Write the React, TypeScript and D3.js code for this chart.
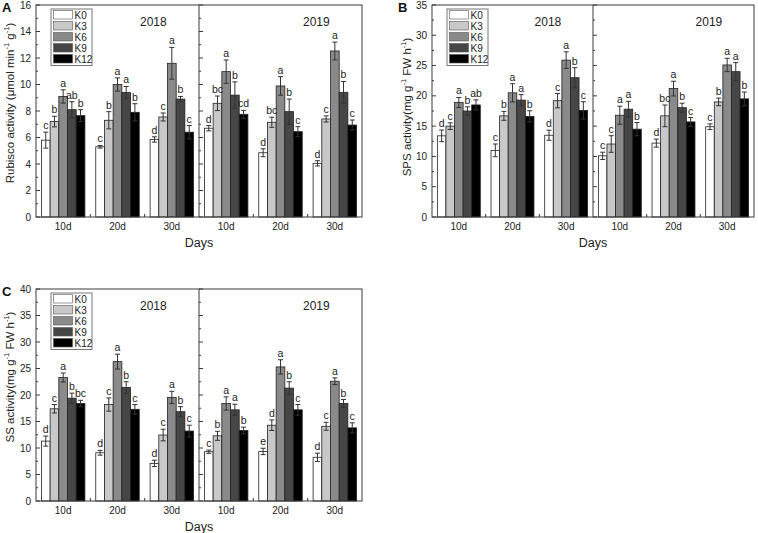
import * as d3 from 'd3';
import { useEffect, useRef } from 'react';

// categories
const treatments = ['K0', 'K3', 'K6', 'K9', 'K12'];
const days = ['10d', '20d', '30d'];
const years = ['2018', '2019'];
const fills = ['#ffffff', '#c8c8c8', '#8a8a8a', '#464646', '#000000'];

// A - Rubisco activity (rows = days, cols = K0..K12)
const rubiscoMean2018 = [[5.8, 7.2, 9.1, 8.1, 7.65], [5.3, 7.3, 10.0, 9.4, 7.9], [5.85, 7.55, 11.6, 8.9, 6.4]];
const rubiscoErr2018 = [[0.6, 0.4, 0.5, 0.6, 0.45], [0.1, 0.65, 0.5, 0.45, 0.65], [0.2, 0.3, 1.2, 0.2, 0.5]];
const rubiscoSig2018 = [['c', 'b', 'a', 'ab', 'b'], ['c', 'b', 'a', 'a', 'b'], ['d', 'c', 'a', 'b', 'c']];
const rubiscoMean2019 = [[6.7, 8.58, 10.97, 9.2, 7.75], [4.85, 7.15, 9.89, 7.95, 6.44], [4.05, 7.4, 12.53, 9.41, 6.94]];
const rubiscoErr2019 = [[0.2, 0.55, 0.88, 1.0, 0.3], [0.3, 0.38, 0.7, 0.95, 0.38], [0.2, 0.23, 0.67, 0.82, 0.38]];
const rubiscoSig2019 = [['d', 'bc', 'a', 'b', 'cd'], ['d', 'bc', 'a', 'b', 'c'], ['d', 'c', 'a', 'b', 'c']];

// B - SPS activity
const spsMean2018 = [[13.4, 15.0, 18.9, 17.5, 18.5], [11.0, 16.7, 20.5, 19.3, 16.6], [13.5, 19.2, 25.9, 23.0, 17.6]];
const spsErr2018 = [[0.96, 0.55, 0.83, 0.69, 0.83], [1.05, 0.74, 1.5, 0.9, 0.94], [0.83, 1.18, 1.37, 1.65, 1.43]];
const spsSig2018 = [['d', 'c', 'a', 'b', 'ab'], ['c', 'b', 'a', 'a', 'b'], ['d', 'c', 'a', 'b', 'c']];
const spsMean2019 = [[10.1, 12.05, 16.8, 17.8, 14.5], [12.2, 16.7, 21.2, 18.05, 15.7], [14.9, 19.0, 25.1, 24.0, 19.5]];
const spsErr2019 = [[0.6, 1.37, 1.49, 1.29, 1.1], [0.66, 1.79, 1.21, 0.74, 0.72], [0.47, 0.63, 1.1, 1.49, 1.13]];
const spsSig2019 = [['c', 'c', 'a', 'a', 'b'], ['d', 'bc', 'a', 'b', 'c'], ['c', 'b', 'a', 'a', 'b']];

// C - SS activity
const ssMean2018 = [[11.3, 17.4, 23.3, 19.4, 18.4], [9.1, 18.2, 26.3, 21.4, 17.3], [7.1, 12.45, 19.55, 16.85, 13.2]];
const ssErr2018 = [[0.95, 0.8, 0.85, 0.95, 0.6], [0.45, 1.25, 1.4, 1.1, 0.9], [0.6, 1.1, 1.15, 0.95, 1.1]];
const ssSig2018 = [['d', 'c', 'a', 'b', 'bc'], ['d', 'c', 'a', 'b', 'c'], ['d', 'c', 'a', 'b', 'c']];
const ssMean2019 = [[9.3, 12.3, 18.4, 17.2, 13.3], [9.35, 14.3, 25.3, 21.3, 17.2], [8.25, 14.1, 22.6, 18.4, 13.8]];
const ssErr2019 = [[0.3, 0.85, 1.25, 1.05, 0.63], [0.6, 1.0, 1.35, 1.2, 1.0], [0.78, 0.75, 0.63, 0.75, 0.95]];
const ssSig2019 = [['c', 'b', 'a', 'a', 'b'], ['e', 'd', 'a', 'b', 'c'], ['d', 'c', 'a', 'b', 'c']];

const FONT = 'Liberation Sans, Arial, sans-serif';
const AXIS = '#3a3a3a';

const panels = [
  {
    tag: 'A', left: 36, right: 362, top: 5, bottom: 217, yMax: 16, yStep: 2,
    titleX: 14, titleY: 103, title: ['Rubisco activity (\u03bcmol min', '-1', ' g', '-1', ')'],
    mean: [rubiscoMean2018, rubiscoMean2019], err: [rubiscoErr2018, rubiscoErr2019], sig: [rubiscoSig2018, rubiscoSig2019],
  },
  {
    tag: 'B', left: 432, right: 754, top: 5, bottom: 217, yMax: 35, yStep: 5,
    titleX: 411, titleY: 107, title: ['SPS activity(mg  g', '-1', ' FW h', '-1', ')'],
    mean: [spsMean2018, spsMean2019], err: [spsErr2018, spsErr2019], sig: [spsSig2018, spsSig2019],
  },
  {
    tag: 'C', left: 36, right: 362, top: 289, bottom: 501, yMax: 40, yStep: 5,
    titleX: 14, titleY: 377, title: ['SS activity(mg  g', '-1', ' FW h', '-1', ')'],
    mean: [ssMean2018, ssMean2019], err: [ssErr2018, ssErr2019], sig: [ssSig2018, ssSig2019],
  },
];

function drawPanel(root, p) {
  const g = root.append('g');
  const y = d3.scaleLinear().domain([0, p.yMax]).range([p.bottom, p.top]);
  const groups = years.flatMap(yr => days.map(d => `${yr}|${d}`));
  const x0 = d3.scaleBand().domain(groups).range([p.left, p.right]).paddingInner(0.2).paddingOuter(0.1);
  const x1 = d3.scaleBand().domain(treatments).range([0, x0.bandwidth()]);
  const step = x0.step();
  const mid = (p.left + p.right) / 2;

  // bars
  const rows = [];
  years.forEach((yr, yi) => days.forEach((d, di) => treatments.forEach((t, ti) => {
    rows.push({ key: `${yr}|${d}`, t, ti, v: p.mean[yi][di][ti], e: p.err[yi][di][ti], s: p.sig[yi][di][ti] });
  })));

  g.selectAll('rect.bar').data(rows).enter().append('rect')
    .attr('x', d => x0(d.key) + x1(d.t))
    .attr('y', d => y(d.v))
    .attr('width', x1.bandwidth())
    .attr('height', d => p.bottom - y(d.v))
    .attr('fill', d => fills[d.ti])
    .attr('stroke', '#222').attr('stroke-width', 0.8);

  // error bars
  const eb = g.selectAll('g.err').data(rows).enter().append('g')
    .attr('stroke', '#333').attr('stroke-width', 1);
  const cx = d => x0(d.key) + x1(d.t) + x1.bandwidth() / 2;
  eb.append('line').attr('x1', cx).attr('x2', cx).attr('y1', d => y(d.v + d.e)).attr('y2', d => y(d.v - d.e));
  eb.append('line').attr('x1', d => cx(d) - 2.5).attr('x2', d => cx(d) + 2.5).attr('y1', d => y(d.v + d.e)).attr('y2', d => y(d.v + d.e));
  eb.append('line').attr('x1', d => cx(d) - 2.5).attr('x2', d => cx(d) + 2.5).attr('y1', d => y(d.v - d.e)).attr('y2', d => y(d.v - d.e));

  // significance letters
  g.selectAll('text.sig').data(rows).enter().append('text')
    .attr('x', cx).attr('y', d => y(d.v + d.e) - 3)
    .attr('text-anchor', 'middle').attr('font-size', 10.5).attr('font-family', FONT).attr('fill', '#222')
    .text(d => d.s);

  // frame and divider
  g.append('rect').attr('x', p.left).attr('y', p.top).attr('width', p.right - p.left).attr('height', p.bottom - p.top)
    .attr('fill', 'none').attr('stroke', AXIS).attr('stroke-width', 1);
  g.append('line').attr('x1', mid).attr('x2', mid).attr('y1', p.top).attr('y2', p.bottom)
    .attr('stroke', AXIS).attr('stroke-width', 1);

  // y ticks (inward) on left axis and on the divider
  const major = d3.range(0, p.yMax + 0.001, p.yStep);
  const minor = d3.range(p.yStep / 2, p.yMax, p.yStep);
  [p.left, mid].forEach(ax => {
    g.selectAll(null).data(major).enter().append('line')
      .attr('x1', ax).attr('x2', ax + 4).attr('y1', d => y(d)).attr('y2', d => y(d)).attr('stroke', AXIS);
    g.selectAll(null).data(minor).enter().append('line')
      .attr('x1', ax).attr('x2', ax + 2).attr('y1', d => y(d)).attr('y2', d => y(d)).attr('stroke', AXIS);
  });
  g.selectAll(null).data(major).enter().append('text')
    .attr('x', p.left - 5).attr('y', d => y(d) + 3.5)
    .attr('text-anchor', 'end').attr('font-size', 10).attr('font-family', FONT).attr('fill', '#222')
    .text(d => d);

  // x minor ticks between day groups
  const bounds = [1, 2, 4, 5].map(i => p.left + i * step);
  g.selectAll(null).data(bounds).enter().append('line')
    .attr('x1', d => d).attr('x2', d => d).attr('y1', p.bottom).attr('y2', p.bottom - 3).attr('stroke', AXIS);

  // day labels
  g.selectAll(null).data(groups).enter().append('text')
    .attr('x', d => x0(d) + x0.bandwidth() / 2).attr('y', p.bottom + 12.5)
    .attr('text-anchor', 'middle').attr('font-size', 10).attr('font-family', FONT).attr('fill', '#222')
    .text(d => d.split('|')[1]);
  g.append('text').attr('x', mid).attr('y', p.bottom + 29.5)
    .attr('text-anchor', 'middle').attr('font-size', 12.5).attr('font-family', FONT).attr('fill', '#222')
    .text('Days');

  // year labels
  const half = (p.right - p.left) / 2;
  years.forEach((yr, i) => {
    g.append('text').attr('x', p.left + i * half + half * 0.72).attr('y', p.top + 21)
      .attr('text-anchor', 'middle').attr('font-size', 12).attr('font-family', FONT).attr('fill', '#222')
      .text(yr);
  });

  // y title with superscripts
  const tt = g.append('text')
    .attr('transform', `translate(${p.titleX},${p.titleY}) rotate(-90)`)
    .attr('text-anchor', 'middle').attr('font-size', 11.5).attr('font-family', FONT).attr('fill', '#222');
  p.title.forEach((s, i) => {
    const sp = tt.append('tspan').text(s);
    if (i % 2 === 1) sp.attr('font-size', 7.5).attr('dy', -5);
    else if (i > 0) sp.attr('dy', 5);
  });

  // panel tag
  g.append('text').attr('x', p.left - 34).attr('y', p.top + 7)
    .attr('font-size', 13).attr('font-weight', 'bold').attr('font-family', FONT).attr('fill', '#111')
    .text(p.tag);

  // legend
  const lx = p.left + 15, ly = p.top + 4;
  const lg = g.append('g');
  lg.append('rect').attr('x', lx).attr('y', ly).attr('width', 41).attr('height', 56.5)
    .attr('fill', '#fff').attr('stroke', '#777').attr('stroke-width', 1);
  treatments.forEach((t, i) => {
    lg.append('rect').attr('x', lx + 2.5).attr('y', ly + 1.5 + i * 11).attr('width', 19).attr('height', 8.5)
      .attr('fill', fills[i]).attr('stroke', '#555').attr('stroke-width', 0.6);
    lg.append('text').attr('x', lx + 23.5).attr('y', ly + 9.5 + i * 11)
      .attr('font-size', 10).attr('font-family', FONT).attr('fill', '#222').text(t);
  });
}

const App = () => {
  const svgRef = useRef(null);

  useEffect(() => {
    const svg = d3.select(svgRef.current);
    svg.selectAll('*').remove();
    panels.forEach(p => drawPanel(svg, p));
  }, []);

  return (
    <svg ref={svgRef} width={758} height={533}
      style={{ position: 'absolute', left: 0, top: 0, background: '#fff' }} />
  );
};

export default App;
